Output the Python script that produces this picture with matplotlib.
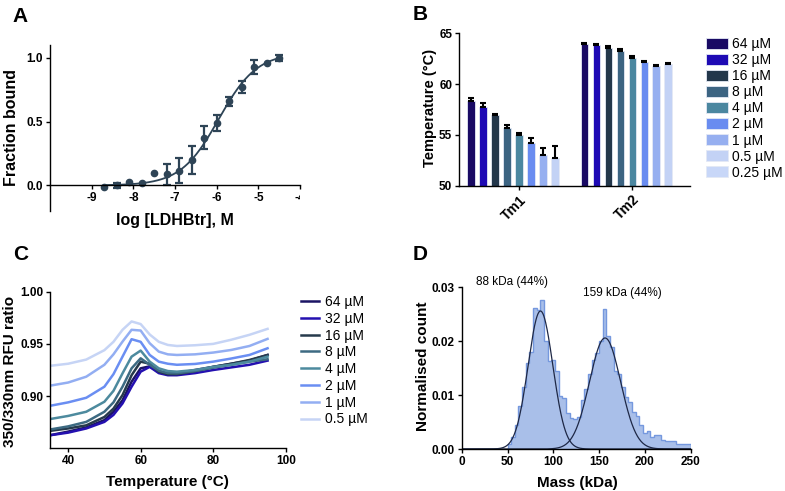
import numpy as np
import matplotlib
matplotlib.use("Agg")
import matplotlib.pyplot as plt
from matplotlib.transforms import Bbox, TransformedBbox

plt.rcParams['font.family'] = ['Liberation Sans', 'DejaVu Sans']
plt.rcParams['font.weight'] = 'bold'
plt.rcParams['axes.labelweight'] = 'bold'
plt.rcParams['axes.linewidth'] = 1.0

# ---- panel A: binding curve
logc_A = [-8.7, -8.4, -8.1, -7.8, -7.5, -7.2, -6.9, -6.6, -6.3, -6.0, -5.7, -5.4, -5.1, -4.8, -4.5]
frac_A = [-0.01, 0.003, 0.03, 0.016, 0.10, 0.086, 0.117, 0.20, 0.373, 0.49, 0.66, 0.77, 0.927, 0.96, 1.0]
err_A = [0, 0.02, 0, 0, 0, 0.08, 0.10, 0.11, 0.09, 0.06, 0.035, 0.045, 0.055, 0, 0.025]
# fitted Hill curve parameters
fit_logEC50 = -5.95
fit_hill = 0.95
fit_top = 1.04

# ---- panel B: melting temperatures
conc_labels = ['64 µM', '32 µM', '16 µM', '8 µM', '4 µM', '2 µM', '1 µM', '0.5 µM', '0.25 µM']
groups_B = ['Tm1', 'Tm2']
tm1 = [58.33, 57.74, 56.95, 55.70, 54.98, 54.23, 53.00, 52.72, np.nan]
tm1_err = [0.26, 0.36, 0.10, 0.26, 0.20, 0.50, 0.70, 1.20, np.nan]
tm2 = [63.95, 63.85, 63.59, 63.26, 62.60, 62.18, 61.75, 61.98, np.nan]
tm2_err = [0.10, 0.10, 0.15, 0.15, 0.15, 0.12, 0.10, 0.12, np.nan]
colors_B = ['#190a64', '#1e0ab4', '#23374b', '#3c6482', '#4b87a0', '#698cf0',
            '#96aff0', '#c3d2f5', '#c8d7f8']

# ---- panel C: nanoDSF ratio traces
temp_C = [35, 40, 45, 50, 52.5, 55, 57.5, 60, 62.5, 65, 67.5, 70, 75, 80, 85, 90, 95]
ratio_C = {
    '64 µM': [0.8625, 0.866, 0.870, 0.877, 0.885, 0.896, 0.9138, 0.9266, 0.9285, 0.923, 0.9218, 0.9218, 0.925, 0.928, 0.931, 0.934, 0.9394],
    '32 µM': [0.8625, 0.865, 0.869, 0.8753, 0.882, 0.893, 0.909, 0.9234, 0.928, 0.922, 0.920, 0.920, 0.922, 0.925, 0.9275, 0.930, 0.934],
    '16 µM': [0.8667, 0.869, 0.872, 0.880, 0.888, 0.901, 0.920, 0.933, 0.931, 0.9234, 0.921, 0.921, 0.924, 0.928, 0.931, 0.9346, 0.9394],
    '8 µM': [0.868, 0.871, 0.8753, 0.885, 0.894, 0.909, 0.9266, 0.9362, 0.930, 0.9244, 0.922, 0.9218, 0.924, 0.9272, 0.930, 0.933, 0.9353],
    '4 µM': [0.878, 0.881, 0.885, 0.8946, 0.905, 0.9218, 0.9378, 0.9436, 0.933, 0.9266, 0.924, 0.9234, 0.925, 0.928, 0.930, 0.933, 0.9378],
    '2 µM': [0.8907, 0.894, 0.8984, 0.909, 0.921, 0.9378, 0.9545, 0.952, 0.9394, 0.933, 0.931, 0.930, 0.9308, 0.933, 0.936, 0.9394, 0.9458],
    '1 µM': [0.910, 0.913, 0.9186, 0.930, 0.940, 0.9522, 0.9635, 0.9628, 0.9506, 0.9426, 0.940, 0.9394, 0.940, 0.9417, 0.9442, 0.948, 0.9548],
    '0.5 µM': [0.929, 0.931, 0.935, 0.944, 0.952, 0.9635, 0.9715, 0.969, 0.959, 0.952, 0.949, 0.948, 0.9487, 0.950, 0.954, 0.9587, 0.9644],
}
colors_C = ['#1b1464', '#2410b0', '#263a4c', '#3d6a82', '#4d8a9e', '#6a8ef2', '#93aef2', '#c6d4f5']

# ---- panel D: mass photometry histogram
mass_edges = np.arange(50, 251, 4)
mass_counts = [0.0010, 0.0022, 0.0045, 0.0080, 0.0115, 0.0160, 0.0180, 0.0262, 0.0258, 0.0276,
               0.0200, 0.0163, 0.0165, 0.0145, 0.0098, 0.0095, 0.0066, 0.0058, 0.0056, 0.0060,
               0.0090, 0.0112, 0.0140, 0.0165, 0.0178, 0.0200, 0.0260, 0.0210, 0.0190, 0.0145,
               0.0140, 0.0115, 0.0097, 0.0088, 0.0068, 0.0062, 0.0045, 0.0030, 0.0033, 0.0022,
               0.0026, 0.0026, 0.0016, 0.0014, 0.0015, 0.0014, 0.0010, 0.0010, 0.0010, 0.0010]
# gaussian fits: centre, sigma, amplitude
gauss_fits = [(86.0, 13.5, 0.0256), (156.5, 17.0, 0.0206)]
peak_labels = ['88 kDa (44%)', '159 kDa (44%)']

W, H = 785, 491
fig = plt.figure(figsize=(W / 100, H / 100), dpi=100)


def px_axes(left, top, right, bottom):
    return fig.add_axes([left / W, 1 - bottom / H, (right - left) / W, (bottom - top) / H])


def style(ax):
    ax.spines['top'].set_visible(False)
    ax.spines['right'].set_visible(False)
    ax.tick_params(length=3, width=1.0, labelsize=8.5, pad=2)


# ===== A
axA = px_axes(50, 45, 300, 211)
style(axA)
axA.spines['bottom'].set_position(('data', 0))
x_fit = np.linspace(logc_A[0], logc_A[-1], 200)
y_fit = fit_top / (1 + 10 ** ((fit_logEC50 - x_fit) * fit_hill))
cA = '#2e4456'
axA.plot(x_fit, y_fit, color=cA, lw=1.3)
axA.plot(logc_A, frac_A, 'o', color=cA, ms=4.5)
xa, ya, ea = np.array(logc_A), np.array(frac_A), np.array(err_A)
m = ea > 0
axA.errorbar(xa[m], ya[m], yerr=ea[m], fmt='none', ecolor=cA, elinewidth=1.6, capsize=2.8, capthick=1.6)
axA.set_xlim(-10, -4)
axA.set_ylim(-0.2, 1.1)
axA.set_xticks([-9, -8, -7, -6, -5, -4])
axA.set_xticklabels(['-9', '-8', '-7', '-6', '-5', '-4'])
axA.set_yticks([0, 0.5, 1.0])
axA.set_yticklabels(['0.0', '0.5', '1.0'])
lbl = axA.get_xticklabels()[-1]
lbl.set_clip_on(True)
lbl.set_clip_box(TransformedBbox(Bbox([[0, 0], [299.5 / W, 1]]), fig.transFigure))
axA.set_xlabel('log [LDHBtr], M', fontsize=11.5, fontweight='bold')
axA.set_ylabel('Fraction bound', fontsize=11.5, fontweight='bold')
axA.xaxis.set_label_coords(0.5, -0.015)
axA.xaxis.label.set_va('top')
axA.yaxis.set_label_coords(-0.122, 0.5)

# ===== B
axB = px_axes(459.3, 33.3, 690, 185.7)
style(axB)
n = len(conc_labels)
step, bw = 0.1056, 0.065
for i in range(n):
    xs = np.array([0, 1]) + (i - (n - 1) / 2) * step
    vals = [tm1[i], tm2[i]]
    errs = [tm1_err[i], tm2_err[i]]
    axB.bar(xs, vals, width=bw, color=colors_B[i], edgecolor='#e4e9f5', linewidth=0.6,
            label=conc_labels[i])
    if not np.isnan(vals[0]):
        axB.errorbar(xs, vals, yerr=[[0, 0], errs], fmt='none', ecolor='black',
                     elinewidth=1.5, capsize=2.2, capthick=1.5)
axB.set_xlim(-0.527, 1.51)
axB.set_ylim(50, 65)
axB.set_yticks([50, 55, 60, 65])
axB.set_xticks([0, 1])
axB.set_xticklabels(groups_B, rotation=45, ha='right', va='top', rotation_mode='anchor', fontsize=10)
axB.set_ylabel('Temperature (°C)', fontsize=10.5, fontweight='bold')
axB.yaxis.set_label_coords(-0.095, 0.51)
axB.legend(loc='upper left', bbox_to_anchor=(706 / W, 1 - 37 / H), bbox_transform=fig.transFigure,
           frameon=False, borderpad=0, borderaxespad=0, handlelength=1.55, handleheight=0.85,
           handletextpad=0.3, labelspacing=0.15, prop={'weight': 'normal', 'size': 10})

# ===== C
axC = px_axes(50, 291.7, 285.7, 448.3)
style(axC)
for (name, vals), c in zip(ratio_C.items(), colors_C):
    axC.plot(temp_C, vals, color=c, lw=1.8, label=name)
axC.set_xlim(35, 100)
axC.set_ylim(0.85, 1.0)
axC.set_xticks([40, 60, 80, 100])
axC.set_yticks([0.90, 0.95, 1.00])
axC.set_yticklabels(['0.90', '0.95', '1.00'])
axC.set_xlabel('Temperature (°C)', fontsize=11, fontweight='bold')
axC.set_ylabel('350/330nm RFU ratio', fontsize=11, fontweight='bold')
axC.xaxis.set_label_coords(0.5, -0.17)
axC.xaxis.label.set_va('top')
axC.yaxis.set_label_coords(-0.14, 0.494)
axC.legend(loc='upper left', bbox_to_anchor=(301 / W, 1 - 295 / H), bbox_transform=fig.transFigure,
           frameon=False, borderpad=0, borderaxespad=0, handlelength=1.3,
           handletextpad=0.4, labelspacing=0.2, prop={'weight': 'normal', 'size': 10})

# ===== D
axD = px_axes(461.7, 287.3, 690.7, 449)
style(axD)
axD.stairs(mass_counts, mass_edges, fill=True, color='#a9bfe9', lw=0)
axD.stairs(mass_counts, mass_edges, color='#7598de', lw=1.0)
xm = np.linspace(0, 250, 500)
for mu, sd, amp in gauss_fits:
    axD.plot(xm, amp * np.exp(-0.5 * ((xm - mu) / sd) ** 2), color='#1e2846', lw=0.9)
axD.set_xlim(0, 250)
axD.set_ylim(0, 0.03)
axD.set_xticks([0, 50, 100, 150, 200, 250])
axD.set_yticks([0, 0.01, 0.02, 0.03])
axD.set_yticklabels(['0.00', '0.01', '0.02', '0.03'])
axD.set_xlabel('Mass (kDa)', fontsize=11, fontweight='bold')
axD.set_ylabel('Normalised count', fontsize=11, fontweight='bold')
axD.xaxis.set_label_coords(0.506, -0.165)
axD.xaxis.label.set_va('top')
axD.yaxis.set_label_coords(-0.14, 0.509)
fig.text(512 / W, 1 - 282 / H, peak_labels[0], ha='center', va='center', fontsize=8.5, fontweight='normal')
fig.text(622 / W, 1 - 293 / H, peak_labels[1], ha='center', va='center', fontsize=8.5, fontweight='normal')

# panel letters
for letter, (x, y) in zip('ABCD', [(12, 22), (413, 20), (13, 260), (413, 260)]):
    fig.text(x / W, 1 - y / H, letter, fontsize=15, fontweight='bold', ha='left', va='baseline')

fig.savefig('out.png', dpi=100)
